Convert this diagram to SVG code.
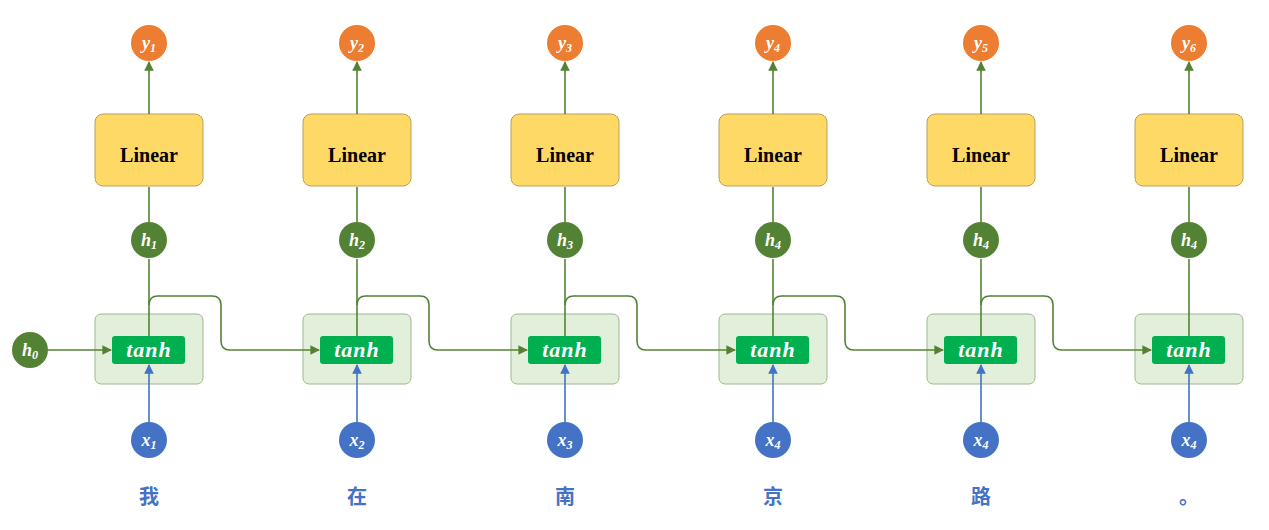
<svg xmlns="http://www.w3.org/2000/svg" width="1269" height="530" viewBox="0 0 1269 530">
<defs>
<style>
.y{fill:#ED7D31}.h{fill:#548235}.x{fill:#4472C4}
.lin{fill:#FFD966;stroke:#B8A060;stroke-width:1}
.cell{fill:#E2EFDA;stroke:#9DB88C;stroke-width:1}
.tb{fill:#00B050}
.m{font-family:"Liberation Serif",serif;font-style:italic;font-weight:bold;fill:#fff;text-anchor:middle}
.lt{font-family:"Liberation Serif",serif;font-weight:bold;font-size:20px;fill:#000;text-anchor:middle}
.tt{font-family:"Liberation Serif",serif;font-style:italic;font-weight:bold;font-size:22px;fill:#fff;text-anchor:middle;letter-spacing:1px}
.cn{font-family:"Noto Sans CJK SC",sans-serif;font-weight:bold;font-size:20px;fill:#4472C4;text-anchor:middle}
.g{stroke:#548235;stroke-width:1.6;fill:none}
.b{stroke:#4472C4;stroke-width:1.6;fill:none}
</style>
<marker id="ag" viewBox="0 0 10 10" refX="9" refY="5" markerWidth="6" markerHeight="6" orient="auto"><path d="M0,0L10,5L0,10z" fill="#548235"/></marker>
<marker id="ab" viewBox="0 0 10 10" refX="9" refY="5" markerWidth="6" markerHeight="6" orient="auto"><path d="M0,0L10,5L0,10z" fill="#4472C4"/></marker>
</defs>
<g id="h0"><circle class="h" cx="30" cy="350" r="18"/><text class="m" x="30" y="356" font-size="18">h<tspan font-size="12" dy="3">0</tspan></text></g>
<g id="col1">
<circle class="y" cx="149" cy="43" r="18"/><text class="m" x="149" y="49" font-size="18">y<tspan font-size="12" dy="3">1</tspan></text>
<rect class="lin" x="95" y="114" width="108" height="72" rx="8"/><text class="lt" x="149" y="162">Linear</text>
<circle class="h" cx="149" cy="240" r="18"/><text class="m" x="149" y="246" font-size="18">h<tspan font-size="12" dy="3">1</tspan></text>
<rect class="cell" x="95" y="314" width="108" height="70" rx="6"/><rect class="tb" x="112" y="336" width="73" height="28" rx="3"/><text class="tt" x="149" y="357">tanh</text>
<circle class="x" cx="149" cy="440" r="18"/><text class="m" x="149" y="446" font-size="18">x<tspan font-size="12" dy="3">1</tspan></text>
<text class="cn" x="149" y="504">我</text>
</g>
<g id="col2">
<circle class="y" cx="357" cy="43" r="18"/><text class="m" x="357" y="49" font-size="18">y<tspan font-size="12" dy="3">2</tspan></text>
<rect class="lin" x="303" y="114" width="108" height="72" rx="8"/><text class="lt" x="357" y="162">Linear</text>
<circle class="h" cx="357" cy="240" r="18"/><text class="m" x="357" y="246" font-size="18">h<tspan font-size="12" dy="3">2</tspan></text>
<rect class="cell" x="303" y="314" width="108" height="70" rx="6"/><rect class="tb" x="320" y="336" width="73" height="28" rx="3"/><text class="tt" x="357" y="357">tanh</text>
<circle class="x" cx="357" cy="440" r="18"/><text class="m" x="357" y="446" font-size="18">x<tspan font-size="12" dy="3">2</tspan></text>
<text class="cn" x="357" y="504">在</text>
</g>
<g id="col3">
<circle class="y" cx="565" cy="43" r="18"/><text class="m" x="565" y="49" font-size="18">y<tspan font-size="12" dy="3">3</tspan></text>
<rect class="lin" x="511" y="114" width="108" height="72" rx="8"/><text class="lt" x="565" y="162">Linear</text>
<circle class="h" cx="565" cy="240" r="18"/><text class="m" x="565" y="246" font-size="18">h<tspan font-size="12" dy="3">3</tspan></text>
<rect class="cell" x="511" y="314" width="108" height="70" rx="6"/><rect class="tb" x="528" y="336" width="73" height="28" rx="3"/><text class="tt" x="565" y="357">tanh</text>
<circle class="x" cx="565" cy="440" r="18"/><text class="m" x="565" y="446" font-size="18">x<tspan font-size="12" dy="3">3</tspan></text>
<text class="cn" x="565" y="504">南</text>
</g>
<g id="col4">
<circle class="y" cx="773" cy="43" r="18"/><text class="m" x="773" y="49" font-size="18">y<tspan font-size="12" dy="3">4</tspan></text>
<rect class="lin" x="719" y="114" width="108" height="72" rx="8"/><text class="lt" x="773" y="162">Linear</text>
<circle class="h" cx="773" cy="240" r="18"/><text class="m" x="773" y="246" font-size="18">h<tspan font-size="12" dy="3">4</tspan></text>
<rect class="cell" x="719" y="314" width="108" height="70" rx="6"/><rect class="tb" x="736" y="336" width="73" height="28" rx="3"/><text class="tt" x="773" y="357">tanh</text>
<circle class="x" cx="773" cy="440" r="18"/><text class="m" x="773" y="446" font-size="18">x<tspan font-size="12" dy="3">4</tspan></text>
<text class="cn" x="773" y="504">京</text>
</g>
<g id="col5">
<circle class="y" cx="981" cy="43" r="18"/><text class="m" x="981" y="49" font-size="18">y<tspan font-size="12" dy="3">5</tspan></text>
<rect class="lin" x="927" y="114" width="108" height="72" rx="8"/><text class="lt" x="981" y="162">Linear</text>
<circle class="h" cx="981" cy="240" r="18"/><text class="m" x="981" y="246" font-size="18">h<tspan font-size="12" dy="3">4</tspan></text>
<rect class="cell" x="927" y="314" width="108" height="70" rx="6"/><rect class="tb" x="944" y="336" width="73" height="28" rx="3"/><text class="tt" x="981" y="357">tanh</text>
<circle class="x" cx="981" cy="440" r="18"/><text class="m" x="981" y="446" font-size="18">x<tspan font-size="12" dy="3">4</tspan></text>
<text class="cn" x="981" y="504">路</text>
</g>
<g id="col6">
<circle class="y" cx="1189" cy="43" r="18"/><text class="m" x="1189" y="49" font-size="18">y<tspan font-size="12" dy="3">6</tspan></text>
<rect class="lin" x="1135" y="114" width="108" height="72" rx="8"/><text class="lt" x="1189" y="162">Linear</text>
<circle class="h" cx="1189" cy="240" r="18"/><text class="m" x="1189" y="246" font-size="18">h<tspan font-size="12" dy="3">4</tspan></text>
<rect class="cell" x="1135" y="314" width="108" height="70" rx="6"/><rect class="tb" x="1152" y="336" width="73" height="28" rx="3"/><text class="tt" x="1189" y="357">tanh</text>
<circle class="x" cx="1189" cy="440" r="18"/><text class="m" x="1189" y="446" font-size="18">x<tspan font-size="12" dy="3">4</tspan></text>
<text class="cn" x="1189" y="504">。</text>
</g>
<g id="connectors">
<path class="g" d="M48,350H111" marker-end="url(#ag)"/>
<path class="g" d="M149,336V259M149,222V187M149,114V62" marker-end="url(#ag)"/>
<path class="g" d="M357,336V259M357,222V187M357,114V62" marker-end="url(#ag)"/>
<path class="g" d="M565,336V259M565,222V187M565,114V62" marker-end="url(#ag)"/>
<path class="g" d="M773,336V259M773,222V187M773,114V62" marker-end="url(#ag)"/>
<path class="g" d="M981,336V259M981,222V187M981,114V62" marker-end="url(#ag)"/>
<path class="g" d="M1189,336V259M1189,222V187M1189,114V62" marker-end="url(#ag)"/>
<path class="g" d="M149,305Q149,296 158,296H212Q221,296 221,305V341Q221,350 230,350H319" marker-end="url(#ag)"/>
<path class="g" d="M357,305Q357,296 366,296H420Q429,296 429,305V341Q429,350 438,350H527" marker-end="url(#ag)"/>
<path class="g" d="M565,305Q565,296 574,296H628Q637,296 637,305V341Q637,350 646,350H735" marker-end="url(#ag)"/>
<path class="g" d="M773,305Q773,296 782,296H836Q845,296 845,305V341Q845,350 854,350H943" marker-end="url(#ag)"/>
<path class="g" d="M981,305Q981,296 990,296H1044Q1053,296 1053,305V341Q1053,350 1062,350H1151" marker-end="url(#ag)"/>
<path class="b" d="M149,422V365" marker-end="url(#ab)"/>
<path class="b" d="M357,422V365" marker-end="url(#ab)"/>
<path class="b" d="M565,422V365" marker-end="url(#ab)"/>
<path class="b" d="M773,422V365" marker-end="url(#ab)"/>
<path class="b" d="M981,422V365" marker-end="url(#ab)"/>
<path class="b" d="M1189,422V365" marker-end="url(#ab)"/>
</g>
</svg>
